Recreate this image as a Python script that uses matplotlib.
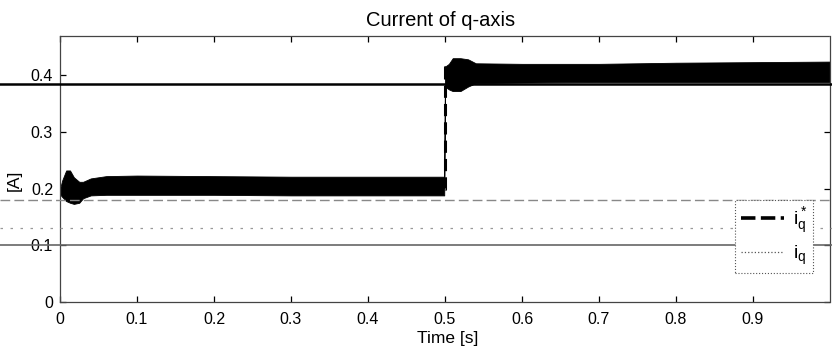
import matplotlib
matplotlib.use("Agg")
import matplotlib.pyplot as plt
from matplotlib.lines import Line2D
import numpy as np

plt.rcParams['font.family'] = ['Liberation Sans', 'DejaVu Sans']
plt.rcParams['mathtext.fontset'] = 'custom'
plt.rcParams['mathtext.rm'] = 'Liberation Sans'

# ---- data ----
# envelope of the fast oscillating measured q-axis current i_q
t_env = [0.0, 0.003, 0.008, 0.013, 0.018, 0.025, 0.03, 0.04, 0.06, 0.1, 0.2, 0.3, 0.4, 0.499,
         0.5, 0.505, 0.51, 0.52, 0.53, 0.54, 0.6, 0.7, 0.8, 0.9, 1.0]
iq_upper = [0.200, 0.215, 0.232, 0.232, 0.220, 0.212, 0.212, 0.218, 0.222, 0.223, 0.222, 0.221, 0.221, 0.221,
            0.415, 0.420, 0.430, 0.430, 0.428, 0.421, 0.420, 0.420, 0.422, 0.423, 0.424]
iq_lower = [0.190, 0.185, 0.178, 0.175, 0.173, 0.175, 0.183, 0.188, 0.189, 0.189, 0.189, 0.188, 0.188, 0.188,
            0.380, 0.375, 0.372, 0.372, 0.380, 0.386, 0.387, 0.388, 0.388, 0.388, 0.388]
# reference current i_q*
t_ref = [0.0, 0.5, 0.5, 1.0]
iq_ref = [0.2, 0.2, 0.415, 0.415]

x_ticks = [0, 0.1, 0.2, 0.3, 0.4, 0.5, 0.6, 0.7, 0.8, 0.9]
x_tick_labels = ['0', '0.1', '0.2', '0.3', '0.4', '0.5', '0.6', '0.7', '0.8', '0.9']
y_ticks = [0, 0.1, 0.2, 0.3, 0.4]
y_tick_labels = ['0', '0.1', '0.2', '0.3', '0.4']

W, H = 832, 354
fig = plt.figure(figsize=(W / 100, H / 100), dpi=100)
ax = fig.add_axes([60 / W, 52 / H, 770 / W, 266.5 / H])

ax.fill_between(t_env, iq_lower, iq_upper, color='black', linewidth=0.6, edgecolor='black')
ax.plot(t_ref, iq_ref, color='black', linestyle=(0, (4, 2)), linewidth=2.2)

ax.set_xlim(0, 1)
ax.set_ylim(0, 0.47)
ax.set_xticks(x_ticks)
ax.set_xticklabels(x_tick_labels)
ax.set_yticks(y_ticks)
ax.set_yticklabels(y_tick_labels)
ax.tick_params(direction='in', length=4, width=0.9, top=True, right=True,
               labelsize=11.5, colors='black')
ax.tick_params(axis='x', pad=7)
ax.tick_params(axis='y', pad=5)
for sp in ax.spines.values():
    sp.set_color('#444444')
    sp.set_linewidth(0.9)
    sp.set_linestyle((0, (3, 1)))

ax.set_xlabel('Time [s]', fontsize=12.5)
ax.xaxis.set_label_coords((448 - 60) / 770, (302 - 331) / 266.5)
ax.set_ylabel('[A]', fontsize=12.5)
ax.yaxis.set_label_coords((22 - 60) / 770, (302 - 180) / 266.5)

fig.text(441 / W, 1 - 20 / H, 'Current of q-axis', ha='center', va='center', fontsize=14.5)

handles = [Line2D([], [], color='black', linestyle=(0, (4, 1.5)), linewidth=2.6),
           Line2D([], [], color='#555555', linestyle=':', linewidth=0.9)]
leg = fig.legend(handles, [r'$\mathregular{i_q^*}$', r'$\mathregular{i_q}$'], loc='upper left',
                 bbox_to_anchor=(735 / W, 1 - 200 / H), fontsize=14,
                 handlelength=2.2, handletextpad=0.5, labelspacing=0.4,
                 borderpad=0.3, borderaxespad=0.0, fancybox=False, framealpha=1)
leg.get_frame().set_edgecolor('#555555')
leg.get_frame().set_linewidth(0.8)
leg.get_frame().set_linestyle(':')

# horizontal scan artefacts across the page
fig.add_artist(Line2D([0, 1], [1 - 84 / H, 1 - 84 / H], transform=fig.transFigure,
                      color='black', linewidth=1.8, zorder=5))
fig.add_artist(Line2D([0, 1], [1 - 200 / H, 1 - 200 / H], transform=fig.transFigure,
                      color='#888888', linewidth=1.0, linestyle=(0, (7, 3)), zorder=5))
fig.add_artist(Line2D([0, 1], [1 - 228 / H, 1 - 228 / H], transform=fig.transFigure,
                      color='#999999', linewidth=0.9, linestyle=(0, (2, 6)), zorder=5))
fig.add_artist(Line2D([0, 1], [1 - 245 / H, 1 - 245 / H], transform=fig.transFigure,
                      color='#666666', linewidth=1.2, zorder=5))

fig.savefig('out.png', dpi=100)
